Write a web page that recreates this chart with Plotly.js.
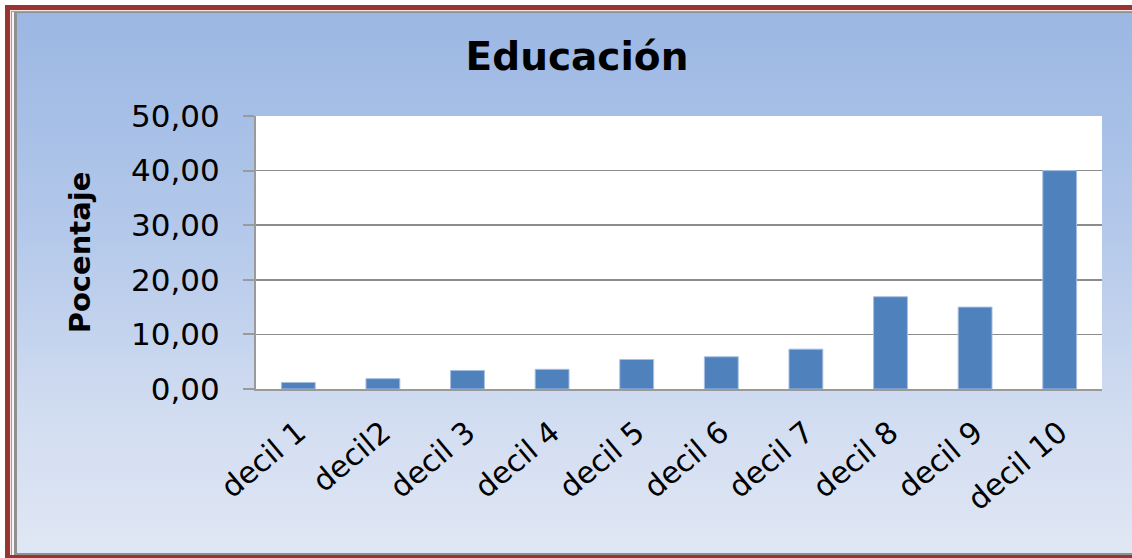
<!DOCTYPE html>
<html>
<head>
<meta charset="utf-8">
<script src="https://cdn.plot.ly/plotly-3.0.1.min.js"></script>
<style>
  html, body { margin:0; padding:0; background:#ffffff; width:1132px; height:558px; overflow:hidden; }
  .layer { position:absolute; }
  #chart { position:absolute; left:0; top:0; width:1132px; height:558px; }
</style>
</head>
<body>
<div class="layer" style="left:5px;top:5px;width:1200px;height:600px;background:#983530;"></div>
<div class="layer" style="left:10px;top:10px;width:1200px;height:545px;background:#f6e6e6;"></div>
<div class="layer" style="left:11px;top:11px;width:1200px;height:544px;background:#c98d8a;"></div>
<div class="layer" style="left:12px;top:12px;width:1200px;height:543px;background:#fbf4f4;"></div>
<div class="layer" style="left:14px;top:12px;width:1200px;height:543px;background:#909090;"></div>
<div class="layer" style="left:17px;top:13px;width:1200px;height:540px;background:linear-gradient(to bottom,#9bb7e3 0%,#b3c8ea 40%,#d2ddf1 75%,#e0e7f4 100%);"></div>
<div id="chart"></div>
<script>
const categories = ["decil 1","decil2","decil 3","decil 4","decil 5","decil 6","decil 7","decil 8","decil 9","decil 10"];
const porcentaje = [1.2, 1.9, 3.4, 3.6, 5.4, 5.9, 7.3, 16.9, 15.0, 40.0];
const yTicks = [0, 10, 20, 30, 40, 50];

const trace = {
  type: "bar",
  x: categories,
  y: porcentaje,
  marker: { color: "#4f81bd", line: { color: "#a7bfe0", width: 1 } },
  hoverinfo: "x+y"
};

const layout = {
  width: 1132,
  height: 558,
  paper_bgcolor: "rgba(0,0,0,0)",
  plot_bgcolor: "#ffffff",
  separators: ",.",
  margin: { l: 256, r: 30, t: 116, b: 169, pad: 0 },
  bargap: 0.6,
  showlegend: false,
  title: {
    text: "<b>Educación</b>",
    font: { family: "DejaVu Sans", size: 39, color: "#000000" },
    x: 577 / 1132, xanchor: "center", xref: "container",
    y: 1 - 56 / 558, yanchor: "middle", yref: "container"
  },
  xaxis: {
    type: "category",
    tickangle: -40,
    tickfont: { family: "DejaVu Sans", size: 30, color: "#000000" },
    ticklabelstandoff: 12,
    showline: true, linecolor: "#9a9a9a", linewidth: 2,
    ticks: "", showgrid: false, zeroline: false
  },
  yaxis: {
    range: [0, 50],
    tickvals: yTicks,
    tickformat: ".2f",
    tickfont: { family: "DejaVu Sans", size: 31, color: "#000000" },
    ticks: "outside", ticklen: 11, tickwidth: 2, tickcolor: "#9a9a9a",
    ticklabelstandoff: 17,
    showline: true, linecolor: "#9a9a9a", linewidth: 2,
    showgrid: true, gridcolor: "#8c8c8c", gridwidth: 1.5,
    zeroline: false,
    title: {
      text: "<b>Pocentaje</b>",
      font: { family: "DejaVu Sans", size: 29, color: "#000000" },
      standoff: 32
    }
  }
};

Plotly.newPlot("chart", [trace], layout, { displayModeBar: false, staticPlot: true });
</script>
</body>
</html>
